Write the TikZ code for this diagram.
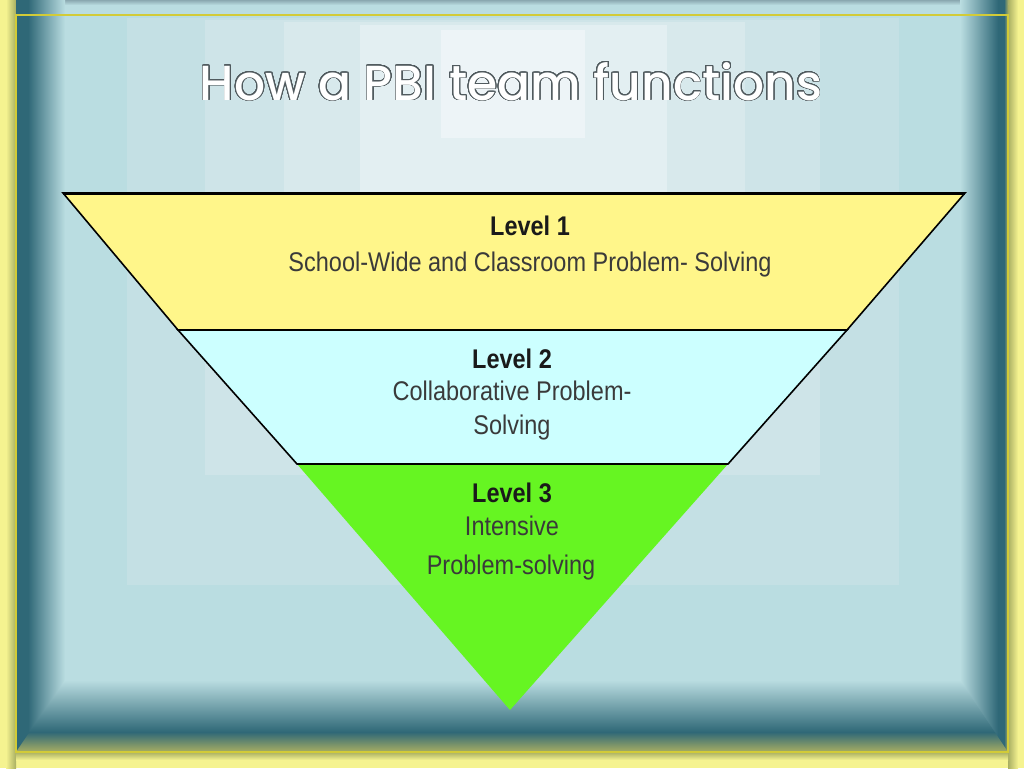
\documentclass[tikz,border=0pt]{standalone}
\usepackage{fontspec}
\usepackage{graphicx}
\usepackage[copies]{contour}
\newfontfamily\titlefont{Poppins}[BoldFont={Poppins Medium}]
\newfontfamily\bodyfont{Liberation Sans}
\definecolor{paleyellow}{HTML}{F5F390}
\definecolor{olivey}{HTML}{A8AE62}
\definecolor{frameyellow}{HTML}{D2CB38}
\definecolor{bgblue}{HTML}{BADDE1}
\definecolor{darkteal}{HTML}{2F6877}
\definecolor{topgrey}{HTML}{8AA8B0}
\definecolor{pA}{HTML}{C4E0E4}
\definecolor{pB}{HTML}{CEE4E8}
\definecolor{pC}{HTML}{D8E9EC}
\definecolor{pD}{HTML}{E3EFF2}
\definecolor{pE}{HTML}{EDF4F7}
\definecolor{lvyellow}{HTML}{FFF68A}
\definecolor{lvcyan}{HTML}{CCFFFF}
\definecolor{lvgreen}{HTML}{66F522}
\definecolor{headtext}{HTML}{1A1A1A}
\definecolor{subtext}{HTML}{3A3A3A}
\definecolor{outlinegrey}{HTML}{505A5E}
\newcommand{\lvtext}[1]{\scalebox{0.87}[1]{#1}}
\contourlength{1.0pt}
\contournumber{32}
\begin{document}
\begin{tikzpicture}[x=1pt,y=-1pt,
  head/.style={anchor=base,inner sep=0pt,font=\bodyfont\bfseries\fontsize{27}{30}\selectfont,text=headtext},
  sub/.style={anchor=base,inner sep=0pt,font=\bodyfont\fontsize{27}{30}\selectfont,text=subtext},
  edge/.style={draw=black,line width=1.6pt,line join=miter}]
\useasboundingbox (0,0) rectangle (1024,768);
% frame background
\fill[paleyellow] (0,0) rectangle (1024,768);
\shade[left color=paleyellow,right color=olivey] (6,0) rectangle (16,768);
\shade[left color=olivey,right color=paleyellow] (1008,0) rectangle (1018,768);
\fill[bgblue] (16,0) rectangle (1008,752);
% glow panels
\fill[pA] (127,18) rectangle (899,585);
\fill[pB] (205,20) rectangle (820,475);
\fill[pC] (284,22) rectangle (745,365);
\fill[pD] (360,25) rectangle (667,250);
\fill[pE] (441,30) rectangle (585,138);
% top strip
\shade[top color=topgrey,bottom color=bgblue] (16,0) rectangle (1008,5);
% left bevel
\fill[darkteal] (16,0) rectangle (28,752);
\shade[left color=darkteal,right color=bgblue] (28,0) rectangle (65,752);
% right bevel
\shade[left color=bgblue,right color=darkteal] (960,0) rectangle (998,752);
\fill[darkteal] (998,0) rectangle (1004,752);
\shade[left color=darkteal,right color=olivey] (1004,0) rectangle (1008,752);
% bottom bevel (mitred)
\begin{scope}
\clip (16,752) -- (1008,752) -- (960,680) -- (65,680) -- cycle;
\shade[top color=bgblue,bottom color=darkteal] (16,680) rectangle (1008,732);
\shade[top color=darkteal,bottom color=olivey] (16,732) rectangle (1008,752);
\end{scope}
\shade[top color=olivey,bottom color=paleyellow] (16,752) rectangle (1008,760);
\draw[frameyellow,line width=2pt] (16,15) rectangle (1008,752);
% title
\node[anchor=base,inner sep=0pt] (title) at (511,100)
  {\resizebox{622pt}{38pt}{\titlefont\bfseries\fontsize{54}{60}\selectfont\contour{outlinegrey}{\textcolor{white}{How a PBI team functions}}}};
% inverted pyramid
\coordinate (t1l) at (63,193);
\coordinate (t1r) at (965,193);
\coordinate (b1l) at (178,330);
\coordinate (b1r) at (847,330);
\coordinate (b2l) at (297,464);
\coordinate (b2r) at (728,464);
\coordinate (apex) at (510,710);
\fill[lvgreen] (b2l) -- (b2r) -- (apex) -- cycle;
\filldraw[fill=lvcyan,edge] (b1l) -- (b1r) -- (b2r) -- (b2l) -- cycle;
\filldraw[fill=lvyellow,edge] (t1l) -- (t1r) -- (b1r) -- (b1l) -- cycle;
\draw[black,line width=3pt] (t1l) -- (t1r);
\draw[black,line width=2.4pt] (b1l) -- (b1r);
\draw[black,line width=2.4pt] (b2l) -- (b2r);
% labels
\node[head] (l1h) at (530,235) {\lvtext{Level 1}};
\node[sub] (l1s) at (530,271) {\lvtext{School-Wide and Classroom Problem- Solving}};
\node[head] (l2h) at (512,368) {\lvtext{Level 2}};
\node[sub] (l2s) at (512,400) {\lvtext{Collaborative Problem-}};
\node[sub] (l2t) at (512,434) {\lvtext{Solving}};
\node[head] (l3h) at (512,502) {\lvtext{Level 3}};
\node[sub] (l3s) at (512,535) {\lvtext{Intensive}};
\node[sub] (l3t) at (511,574) {\lvtext{Problem-solving}};
\end{tikzpicture}
\end{document}
